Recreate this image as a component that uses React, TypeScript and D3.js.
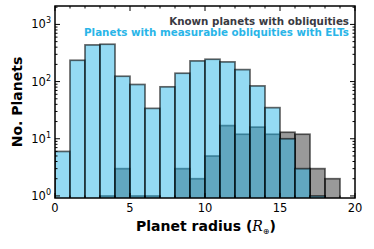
import React, { useEffect, useRef } from "react";
import * as d3 from "d3";

// bin edges 0..20 (width 1)
const binStarts = [0, 1, 2, 3, 4, 5, 6, 7, 8, 9, 10, 11, 12, 13, 14, 15, 16, 17, 18, 19];
const knownCounts = [0, 0, 0, 1, 3, 1, 1, 0, 3, 2, 5, 17, 12, 16, 12, 13, 12, 3, 2, 0];
const eltCounts = [6, 236, 438, 450, 124, 89, 34, 81, 140, 230, 246, 221, 162, 84, 35, 10, 3, 1, 0, 0];
const xTicks = [0, 5, 10, 15, 20];
const yTicks = [1, 10, 100, 1000];
const legendLabels = ["Known planets with obliquities", "Planets with measurable obliquities with ELTs"];

const App = () => {
  const ref = useRef<SVGSVGElement>(null);

  useEffect(() => {
    const svg = d3.select(ref.current);
    svg.selectAll("*").remove();

    const width = 374;
    const height = 249;
    const margin = { top: 6, right: 19, bottom: 51, left: 55 };
    const font = "DejaVu Sans";

    const x = d3.scaleLinear().domain([0, 20]).range([margin.left, width - margin.right]);
    const y = d3.scaleLog().domain([0.92, 2100]).range([height - margin.bottom, margin.top]);

    const plot = svg.append("g");
    const clipId = "plotclip";
    svg
      .append("clipPath")
      .attr("id", clipId)
      .append("rect")
      .attr("x", margin.left)
      .attr("y", margin.top)
      .attr("width", width - margin.left - margin.right)
      .attr("height", height - margin.top - margin.bottom);
    plot.attr("clip-path", `url(#${clipId})`);

    const drawBars = (counts: number[], fill: string, opacity: number) => {
      plot
        .append("g")
        .selectAll("rect")
        .data(binStarts.map((b, i) => ({ b, v: counts[i] })).filter((d) => d.v > 0))
        .enter()
        .append("rect")
        .attr("x", (d) => x(d.b))
        .attr("width", (d) => x(d.b + 1) - x(d.b))
        .attr("y", (d) => y(d.v))
        .attr("height", (d) => y.range()[0] + 2 - y(d.v))
        .attr("fill", fill)
        .attr("fill-opacity", opacity)
        .attr("stroke", "rgba(0,0,0,0.6)")
        .attr("stroke-width", 1.7);
    };

    // known planets first (gray), then ELT bars on top with alpha
    drawBars(knownCounts, "#333333", 0.5);
    drawBars(eltCounts, "#29b5e8", 0.5);

    // frame
    svg
      .append("rect")
      .attr("x", margin.left)
      .attr("y", margin.top)
      .attr("width", width - margin.left - margin.right)
      .attr("height", height - margin.top - margin.bottom)
      .attr("fill", "none")
      .attr("stroke", "#000")
      .attr("stroke-width", 1.5);

    const y0 = height - margin.bottom;
    const y1 = margin.top;
    const x0 = margin.left;
    const x1 = width - margin.right;
    const ticks = svg.append("g").attr("stroke", "#000").attr("stroke-width", 1);

    // x ticks (major every 5, minor every 1), inside on top and bottom
    d3.range(0, 21).forEach((t) => {
      const len = t % 5 === 0 ? 5 : 2.5;
      ticks.append("line").attr("x1", x(t)).attr("x2", x(t)).attr("y1", y0).attr("y2", y0 - len);
      ticks.append("line").attr("x1", x(t)).attr("x2", x(t)).attr("y1", y1).attr("y2", y1 + len);
    });

    // y ticks, major at decades, minor at 2..9
    const minor: number[] = [];
    [1, 10, 100, 1000].forEach((d) => {
      for (let k = 2; k <= 9; k++) if (d * k < 2100) minor.push(d * k);
    });
    yTicks.forEach((t) => {
      ticks.append("line").attr("x1", x0).attr("x2", x0 + 5).attr("y1", y(t)).attr("y2", y(t));
      ticks.append("line").attr("x1", x1).attr("x2", x1 - 5).attr("y1", y(t)).attr("y2", y(t));
    });
    minor.forEach((t) => {
      ticks.append("line").attr("x1", x0).attr("x2", x0 + 2.5).attr("y1", y(t)).attr("y2", y(t));
      ticks.append("line").attr("x1", x1).attr("x2", x1 - 2.5).attr("y1", y(t)).attr("y2", y(t));
    });

    // tick labels
    xTicks.forEach((t) => {
      svg
        .append("text")
        .attr("x", x(t))
        .attr("y", y0 + 14)
        .attr("text-anchor", "middle")
        .attr("font-family", font)
        .attr("font-size", 11.5)
        .attr("fill", "#000")
        .text(t);
    });
    yTicks.forEach((t) => {
      const txt = svg
        .append("text")
        .attr("x", x0 - 4)
        .attr("y", y(t) + 4)
        .attr("text-anchor", "end")
        .attr("font-family", font)
        .attr("font-size", 11.5)
        .attr("fill", "#000");
      txt.append("tspan").text("10");
      txt
        .append("tspan")
        .attr("font-size", 8)
        .attr("dy", -5)
        .text(Math.round(Math.log10(t)));
    });

    // axis labels
    const xl = svg
      .append("text")
      .attr("x", (x0 + x1) / 2 + 1)
      .attr("y", y0 + 33)
      .attr("text-anchor", "middle")
      .attr("font-family", font)
      .attr("font-weight", "bold")
      .attr("font-size", 14)
      .attr("fill", "#000");
    xl.append("tspan").text("Planet radius (");
    xl.append("tspan").attr("font-style", "italic").attr("font-weight", "normal").attr("font-family", "DejaVu Serif").text("R");
    xl.append("tspan").attr("font-size", 8).attr("font-weight", "normal").attr("dy", 3).text("⊕");
    xl.append("tspan").attr("dy", -3).text(")");

    svg
      .append("text")
      .attr("transform", `translate(22,${(y0 + y1) / 2}) rotate(-90)`)
      .attr("text-anchor", "middle")
      .attr("font-family", font)
      .attr("font-weight", "bold")
      .attr("font-size", 14)
      .attr("fill", "#000")
      .text("No. Planets");

    // legend text
    const legendColors = ["#3a3a42", "#29b5e8"];
    legendLabels.forEach((l, i) => {
      svg
        .append("text")
        .attr("x", x1 - 6)
        .attr("y", 25 + i * 10.8)
        .attr("text-anchor", "end")
        .attr("font-family", font)
        .attr("font-weight", "bold")
        .attr("font-size", 10.3)
        .attr("fill", legendColors[i])
        .text(l);
    });
  }, []);

  return <svg ref={ref} width={374} height={249} style={{ display: "block", position: "absolute", left: 0, top: 0 }}></svg>;
};

export default App;
